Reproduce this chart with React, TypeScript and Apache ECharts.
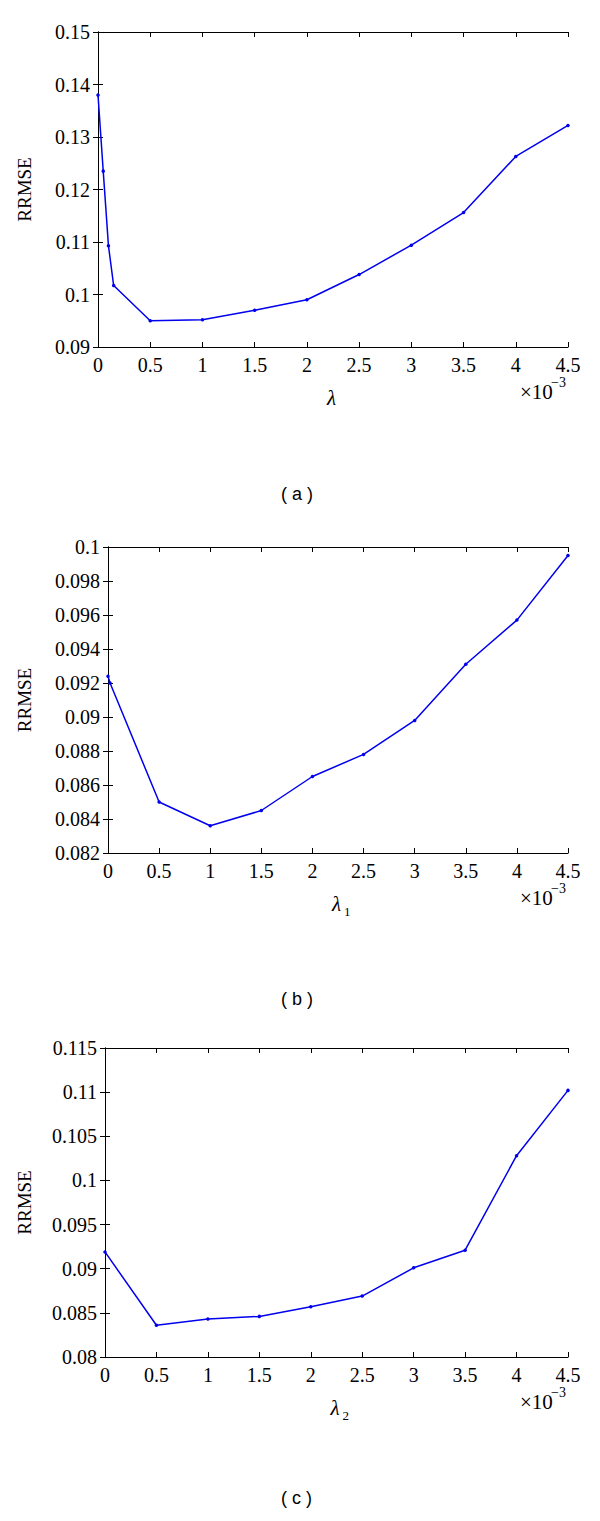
import React, { useEffect, useRef } from "react";
import * as echarts from "echarts";

const xA = [0, 0.05, 0.1, 0.15, 0.5, 1, 1.5, 2, 2.5, 3, 3.5, 4, 4.5];
const yA = [0.138, 0.1235, 0.1093, 0.1017, 0.095, 0.0952, 0.097, 0.099, 0.1038, 0.1094, 0.1156, 0.1263, 0.1322];

const xB = [0, 0.02, 0.5, 1, 1.5, 2, 2.5, 3, 3.5, 4, 4.5];
const yB = [0.0924, 0.092, 0.085, 0.0836, 0.0845, 0.0865, 0.0878, 0.0898, 0.0931, 0.0957, 0.0995];

const xC = [0, 0.5, 1, 1.5, 2, 2.5, 3, 3.5, 4, 4.5];
const yC = [0.0919, 0.0836, 0.0843, 0.0846, 0.0857, 0.0869, 0.0901, 0.0921, 0.1028, 0.1102];

const SERIF = "Liberation Serif";
const SANS = "Liberation Sans";

const panels = [
  { x: xA, y: yA, grid: { left: 98, top: 32, width: 470, height: 315 }, min: 0.09, max: 0.15, interval: 0.01, nameGap: 64, sub: "", caption: "( a )", capY: 495 },
  { x: xB, y: yB, grid: { left: 108, top: 547, width: 460, height: 306 }, min: 0.082, max: 0.1, interval: 0.002, nameGap: 74, sub: "1", caption: "( b )", capY: 1000 },
  { x: xC, y: yC, grid: { left: 105, top: 1048, width: 463, height: 309 }, min: 0.08, max: 0.115, interval: 0.005, nameGap: 71, sub: "2", caption: "( c )", capY: 1499 },
];

export default function App() {
  const ref = useRef<HTMLDivElement>(null);
  useEffect(() => {
    if (!ref.current) return;
    const chart = echarts.init(ref.current, undefined, { renderer: "svg" });
    const grids: any[] = [];
    const xAxes: any[] = [];
    const yAxes: any[] = [];
    const series: any[] = [];
    const graphics: any[] = [];
    const line = { show: true, lineStyle: { color: "#000", width: 1 } };
    const tick = { show: true, inside: true, length: 5, lineStyle: { color: "#000", width: 1 } };
    panels.forEach((p, i) => {
      grids.push({ ...p.grid, containLabel: false });
      xAxes.push({
        type: "value", gridIndex: i, min: 0, max: 4.5, interval: 0.5, position: "bottom",
        axisLine: line, axisTick: tick, splitLine: { show: false },
        axisLabel: { color: "#000", fontFamily: SERIF, fontSize: 20, margin: 8, formatter: (v: number) => String(+v.toFixed(2)) },
      });
      xAxes.push({
        type: "value", gridIndex: i, min: 0, max: 4.5, interval: 0.5, position: "top",
        axisLine: line, axisTick: tick, splitLine: { show: false }, axisLabel: { show: false },
      });
      yAxes.push({
        type: "value", gridIndex: i, min: p.min, max: p.max, interval: p.interval, position: "left",
        axisLine: line, axisTick: tick, splitLine: { show: false },
        axisLabel: { color: "#000", fontFamily: SERIF, fontSize: 20, margin: 8, formatter: (v: number) => String(+v.toFixed(4)) },
        name: "RRMSE", nameLocation: "middle", nameGap: p.nameGap, nameRotate: 90,
        nameTextStyle: { color: "#000", fontFamily: SERIF, fontSize: 19 },
      });
      yAxes.push({
        type: "value", gridIndex: i, min: p.min, max: p.max, interval: p.interval, position: "right",
        axisLine: line, axisTick: tick, splitLine: { show: false }, axisLabel: { show: false },
      });
      series.push({
        type: "line", xAxisIndex: 2 * i, yAxisIndex: 2 * i,
        data: p.x.map((xv, k) => [xv, p.y[k]]),
        symbol: "circle", symbolSize: 3.5,
        lineStyle: { color: "#0000ee", width: 1.5 }, itemStyle: { color: "#0000ee" },
      });
      const bottom = p.grid.top + p.grid.height;
      const cx = p.grid.left + p.grid.width / 2;
      graphics.push({
        type: "text", left: cx - 6, top: bottom + 40,
        style: { text: "λ", fontFamily: SERIF, fontStyle: "italic", fontSize: 21, fill: "#000" },
      });
      if (p.sub) {
        graphics.push({
          type: "text", left: cx + 6, top: bottom + 52,
          style: { text: p.sub, fontFamily: SERIF, fontSize: 13, fill: "#000" },
        });
      }
      graphics.push({
        type: "text", left: 520, top: bottom + 34,
        style: { text: "×10", fontFamily: SERIF, fontSize: 21, fill: "#000" },
      });
      graphics.push({
        type: "text", left: 551, top: bottom + 28,
        style: { text: "−3", fontFamily: SERIF, fontSize: 14, fill: "#000" },
      });
      graphics.push({
        type: "text", left: 281, top: p.capY - 10,
        style: { text: p.caption, fontFamily: SANS, fontSize: 18, fill: "#000" },
      });
    });
    chart.setOption({
      animation: false,
      backgroundColor: "#fff",
      grid: grids,
      xAxis: xAxes,
      yAxis: yAxes,
      series,
      graphic: graphics,
    });
    return () => chart.dispose();
  }, []);
  return <div ref={ref} style={{ position: "absolute", left: 0, top: 0, width: 600, height: 1521 }} />;
}
